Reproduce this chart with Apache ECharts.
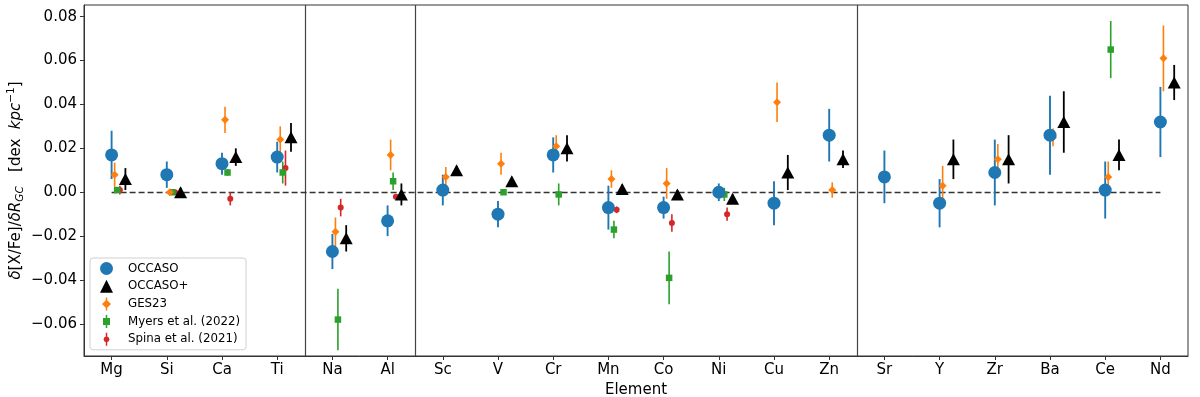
<!DOCTYPE html>
<html>
<head>
<meta charset="utf-8">
<script src="https://cdn.jsdelivr.net/npm/echarts@6/dist/echarts.min.js"></script>
<style>
  html, body { margin: 0; padding: 0; background: #fff; }
  #chart { width: 1200px; height: 397px; }
</style>
</head>
<body>
<div id="chart"></div>
<script>
// elements on the x axis
const elements = ['Mg', 'Si', 'Ca', 'Ti', 'Na', 'Al', 'Sc', 'V', 'Cr', 'Mn', 'Co', 'Ni', 'Cu', 'Zn', 'Sr', 'Y', 'Zr', 'Ba', 'Ce', 'Nd']

// gradients and errors (dex/kpc), null = no value
const occasoVal = [0.017, 0.008, 0.013, 0.016, -0.027, -0.013, 0.001, -0.010, 0.017, -0.007, -0.007, 0.000, -0.005, 0.026, 0.007, -0.005, 0.009, 0.026, 0.001, 0.032]
const occasoErr = [0.011, 0.006, 0.005, 0.007, 0.008, 0.007, 0.007, 0.006, 0.008, 0.010, 0.005, 0.004, 0.010, 0.012, 0.012, 0.011, 0.015, 0.018, 0.013, 0.016]

const occasoPlusVal = [0.006, 0.000, 0.016, 0.025, -0.021, -0.001, 0.010, 0.005, 0.020, 0.0015, -0.001, -0.003, 0.009, 0.015, null, 0.015, 0.015, 0.032, 0.017, 0.050]
const occasoPlusErr = [0.005, 0.002, 0.004, 0.0065, 0.006, 0.005, 0.002, 0.002, 0.006, 0.002, 0.002, 0.002, 0.008, 0.004, null, 0.009, 0.011, 0.014, 0.007, 0.008]

const ges23Val = [0.008, 0.000, 0.033, 0.024, -0.018, 0.017, 0.007, 0.013, 0.021, 0.006, 0.004, null, 0.041, 0.001, null, 0.003, 0.015, 0.025, 0.007, 0.061]
const ges23Err = [0.0055, 0.001, 0.006, 0.006, 0.0065, 0.007, 0.0045, 0.005, 0.005, 0.004, 0.007, null, 0.009, 0.0035, null, 0.009, 0.007, 0.004, 0.007, 0.015]

const myersVal = [0.001, 0.000, 0.009, 0.009, -0.058, 0.005, null, 0.000, -0.001, -0.017, -0.039, -0.001, null, null, null, null, null, null, 0.065, null]
const myersErr = [0.001, 0.001, 0.0015, 0.005, 0.014, 0.004, null, 0.001, 0.005, 0.004, 0.012, 0.003, null, null, null, null, null, null, 0.013, null]

const spinaVal = [0.001, 0.000, -0.003, 0.011, -0.007, -0.002, null, null, null, -0.008, -0.014, -0.010, null, null, null, null, null, null, null, null]
const spinaErr = [0.002, 0.001, 0.003, 0.008, 0.004, 0.001, null, null, null, 0.0015, 0.004, 0.003, null, null, null, null, null, null, null, null]

const yTicks = [-0.06, -0.04, -0.02, 0.00, 0.02, 0.04, 0.06, 0.08]
const groupBreaks = [3.5, 5.5, 13.5]

const FONT = 'DejaVu Sans'

function toPoints(vals, errs, shift) {
    const out = []
    vals.forEach((v, i) => {
        if (v !== null) out.push([i + shift, v, errs[i]])
    })
    return out
}

function errBars(name, color, width, pts, z) {
    return {
        name: name,
        type: 'custom',
        z: z,
        color: color,
        encode: { x: 0, y: 1 },
        data: pts,
        renderItem: function (params, api) {
            const x = api.value(0), v = api.value(1), e = api.value(2)
            const a = api.coord([x, v - e])
            const b = api.coord([x, v + e])
            return {
                type: 'line',
                shape: { x1: a[0], y1: a[1], x2: b[0], y2: b[1] },
                style: { stroke: color, lineWidth: width }
            }
        }
    }
}

function markers(name, color, symbol, size, pts, z) {
    return {
        name: name,
        type: 'scatter',
        z: z,
        symbol: symbol,
        symbolSize: size,
        itemStyle: { color: color, opacity: 1 },
        data: pts.map(p => [p[0], p[1]])
    }
}

const seriesList = []
// literature first so OCCASO sits on top
const spinaPts = toPoints(spinaVal, spinaErr, 0.15)
const myersPts = toPoints(myersVal, myersErr, 0.10)
const gesPts = toPoints(ges23Val, ges23Err, 0.055)
const plusPts = toPoints(occasoPlusVal, occasoPlusErr, 0.25)
const occPts = toPoints(occasoVal, occasoErr, 0)

seriesList.push(errBars('Spina et al. (2021)', '#d62728', 1.6, spinaPts, 2))
seriesList.push(markers('Spina et al. (2021)', '#d62728', 'circle', 6, spinaPts, 2))
seriesList.push(errBars('Myers et al. (2022)', '#2ca02c', 1.6, myersPts, 2))
seriesList.push(markers('Myers et al. (2022)', '#2ca02c', 'rect', 6.5, myersPts, 2))
seriesList.push(errBars('GES23', '#ff7f0e', 1.6, gesPts, 2))
seriesList.push(markers('GES23', '#ff7f0e', 'diamond', 8, gesPts, 2))
seriesList.push(errBars('OCCASO+', '#000000', 1.8, plusPts, 2))
seriesList.push(markers('OCCASO+', '#000000', 'triangle', [13, 12], plusPts, 2))
seriesList.push(errBars('OCCASO', '#1f77b4', 1.9, occPts, 2))
seriesList.push(markers('OCCASO', '#1f77b4', 'circle', 13, occPts, 2))

// separators between element groups + zero line
seriesList[0].markLine = {
    silent: true,
    z: 1,
    symbol: 'none',
    animation: false,
    label: { show: false },
    emphasis: { disabled: true },
    data: groupBreaks.map(b => ({ xAxis: b, lineStyle: { color: '#444', width: 1.2, type: 'solid' } }))
        .concat([[{ coord: [0, 0], lineStyle: { color: '#333', width: 1.3, type: [6, 3] } }, { coord: [elements.length - 1, 0] }]])
}

const chart = echarts.init(document.getElementById('chart'))
chart.setOption({
    animation: false,
    textStyle: { fontFamily: FONT },
    grid: {
        left: 84, right: 12, top: 5, bottom: 41,
        outerBoundsMode: 'none', containLabel: false,
        show: true, borderColor: '#333', borderWidth: 1, backgroundColor: 'transparent'
    },
    legend: {
        left: 90,
        top: 258,
        orient: 'vertical',
        selectedMode: false,
        itemWidth: 13,
        itemHeight: 13,
        itemGap: 4.7,
        padding: [4, 6, 4, 10],
        borderColor: '#d0d0d0',
        borderWidth: 1,
        borderRadius: 3,
        backgroundColor: 'rgba(255,255,255,0.8)',
        textStyle: { fontFamily: FONT, fontSize: 11.8, color: '#000', padding: [0, 0, 0, 10] },
        data: [
            { name: 'OCCASO', icon: 'circle', itemStyle: { color: '#1f77b4', borderWidth: 0 } },
            { name: 'OCCASO+', icon: 'triangle', itemStyle: { color: '#000', borderWidth: 0 } },
            { name: 'GES23', icon: 'path://M0,6.5 L4.5,2 L9,6.5 L4.5,11 Z M3.75,0 L5.25,0 L5.25,13 L3.75,13 Z', itemStyle: { color: '#ff7f0e', borderWidth: 0 } },
            { name: 'Myers et al. (2022)', icon: 'path://M0,3 L7,3 L7,10 L0,10 Z M2.75,0 L4.25,0 L4.25,13 L2.75,13 Z', itemStyle: { color: '#2ca02c', borderWidth: 0 } },
            { name: 'Spina et al. (2021)', icon: 'path://M3,3.5 L5.12,4.38 L6,6.5 L5.12,8.62 L3,9.5 L0.88,8.62 L0,6.5 L0.88,4.38 Z M2.25,0 L3.75,0 L3.75,13 L2.25,13 Z', itemStyle: { color: '#d62728', borderWidth: 0 } }
        ]
    },
    xAxis: {
        type: 'value',
        min: -0.5,
        max: elements.length - 0.5,
        name: 'Element',
        nameLocation: 'middle',
        nameGap: 21,
        nameTextStyle: { fontFamily: FONT, fontSize: 15, color: '#000' },
        axisLine: { show: true, onZero: false, lineStyle: { color: '#333', width: 1 } },
        axisTick: { show: true, length: 4, customValues: elements.map((e, i) => i), lineStyle: { color: '#333' } },
        axisLabel: {
            customValues: elements.map((e, i) => i),
            formatter: v => elements[Math.round(v)],
            fontFamily: FONT, fontSize: 15, color: '#000', margin: 7
        },
        splitLine: { show: false }
    },
    yAxis: {
        type: 'value',
        min: -0.0746,
        max: 0.0853,
        name: '{d|δ}[X/Fe]/{d|δR}{sub|GC}   [dex  {d|kpc}{sup|−1}]',
        nameLocation: 'middle',
        nameRotate: 90,
        nameGap: 58,
        nameMoveOverlap: false,
        nameTextStyle: {
            fontFamily: FONT, fontSize: 15, color: '#000',
            rich: {
                d: { fontFamily: FONT, fontSize: 15, fontStyle: 'italic', color: '#000' },
                sub: { fontFamily: FONT, fontSize: 10.5, fontStyle: 'italic', color: '#000', padding: [8, 0, 0, 0] },
                sup: { fontFamily: FONT, fontSize: 10.5, color: '#000', padding: [0, 0, 9, 0] }
            }
        },
        axisLine: { show: true, onZero: false, lineStyle: { color: '#333', width: 1 } },
        axisTick: { show: true, length: 4, customValues: yTicks, lineStyle: { color: '#333' } },
        axisLabel: {
            customValues: yTicks,
            formatter: v => (v < -1e-9 ? '\u2212' : '') + Math.abs(v).toFixed(2),
            fontFamily: FONT, fontSize: 15, color: '#000', margin: 7
        },
        splitLine: { show: false }
    },
    series: seriesList
})
</script>
</body>
</html>
